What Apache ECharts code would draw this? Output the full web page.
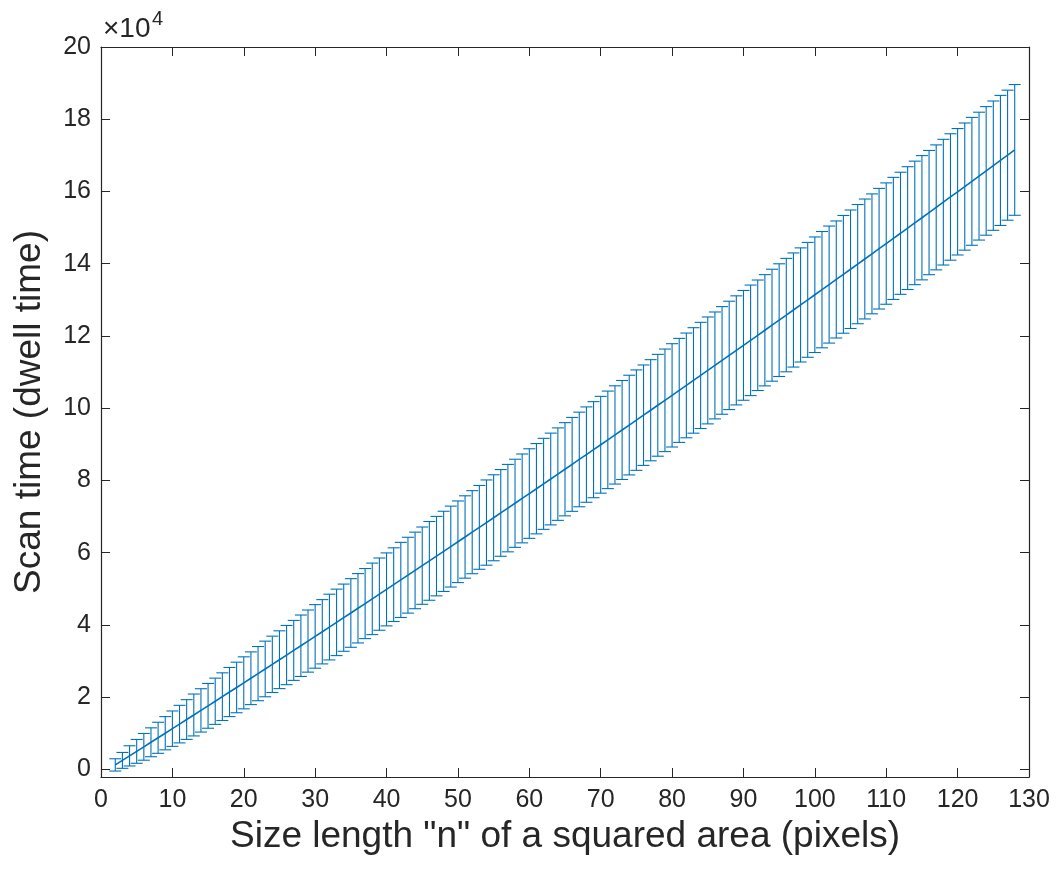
<!DOCTYPE html>
<html>
<head>
<meta charset="utf-8">
<script src="https://cdn.jsdelivr.net/npm/echarts@6/dist/echarts.min.js"></script>
<style>
html,body{margin:0;padding:0;background:#fff;}
#chart{width:1057px;height:877px;}
</style>
</head>
<body>
<div id="chart"></div>
<script>
// Size length n (pixels)
var sizeN = [2,3,4,5,6,7,8,9,10,11,12,13,14,15,16,17,18,19,20,21,22,23,24,25,26,27,28,29,30,31,32,33,34,35,36,37,38,39,40,41,42,43,44,45,46,47,48,49,50,51,52,53,54,55,56,57,58,59,60,61,62,63,64,65,66,67,68,69,70,71,72,73,74,75,76,77,78,79,80,81,82,83,84,85,86,87,88,89,90,91,92,93,94,95,96,97,98,99,100,101,102,103,104,105,106,107,108,109,110,111,112,113,114,115,116,117,118,119,120,121,122,123,124,125,126,127,128];
// Mean scan time (dwell time)
var meanTime = [1250,2500,3750,5000,6250,7510,8760,10020,11280,12540,13810,15070,16340,17600,18870,20140,21420,22690,23970,25240,26520,27810,29090,30370,31660,32950,34240,35530,36820,38110,39410,40710,42010,43310,44610,45910,47220,48530,49840,51150,52460,53770,55090,56410,57730,59050,60370,61690,63020,64350,65680,67010,68340,69670,71010,72340,73680,75020,76370,77710,79060,80400,81750,83100,84450,85810,87160,88520,89880,91240,92600,93970,95330,96700,98070,99440,100810,102180,103560,104930,106310,107690,109070,110460,111840,113230,114620,116010,117400,118790,120190,121580,122980,124380,125780,127190,128590,130000,131410,132820,134230,135640,137060,138470,139890,141310,142730,144160,145580,147010,148430,149860,151300,152730,154160,155600,157040,158480,159920,161360,162810,164250,165700,167150,168600,170050,171510];
// Error bar half-length
var errTime = [1700,2200,2800,3300,3700,4000,4300,4600,4900,5200,5500,5800,6000,6200,6400,6600,6800,7000,7200,7300,7500,7700,7800,8000,8200,8300,8500,8600,8800,8900,9100,9200,9300,9500,9600,9700,9900,10000,10100,10200,10400,10500,10600,10700,10900,11000,11100,11200,11300,11400,11500,11600,11800,11900,12000,12100,12200,12300,12400,12500,12600,12700,12800,12900,13000,13100,13200,13300,13400,13500,13600,13700,13800,13900,13900,14000,14100,14200,14300,14400,14500,14600,14700,14800,14800,14900,15000,15100,15200,15300,15300,15400,15500,15600,15700,15800,15800,15900,16000,16100,16200,16200,16300,16400,16500,16600,16600,16700,16800,16900,16900,17000,17100,17200,17200,17300,17400,17500,17500,17600,17700,17700,17800,17900,18000,18000,18100];
var xTicks = [0,10,20,30,40,50,60,70,80,90,100,110,120,130];
var yTicks = [0,20000,40000,60000,80000,100000,120000,140000,160000,180000,200000];
var xTitle = 'Size length "n" of a squared area (pixels)';
var yTitle = 'Scan time (dwell time)';

var FONT = '"Liberation Sans", Arial, Helvetica, sans-serif';
var AX = '#262626';
var BLUE = '#0072BD';

var lineData = sizeN.map(function(n,i){return [n, meanTime[i]];});
var errData = sizeN.map(function(n,i){return [n, meanTime[i]-errTime[i], meanTime[i]+errTime[i]];});

var chart = echarts.init(document.getElementById('chart'), null, {renderer:'canvas'});

function xAx(pos, showLabel){
  return {
    type:'value', position:pos, min:0, max:130, interval:10,
    axisLine:{show:true, onZero:false, lineStyle:{color:AX, width:1.2}},
    axisTick:{show:true, inside:true, length:9, lineStyle:{color:AX, width:1}},
    axisLabel:{show:showLabel, fontSize:25, color:AX, fontFamily:FONT, margin:11},
    splitLine:{show:false},
    name: showLabel ? xTitle : '',
    nameLocation:'middle', nameGap:40,
    nameTextStyle:{fontSize:37, color:AX, fontFamily:FONT}
  };
}
function yAx(pos, showLabel){
  return {
    type:'value', position:pos, min:-2100, max:200000,
    axisLine:{show:true, onZero:false, lineStyle:{color:AX, width:1.2}},
    axisTick:{show:true, inside:true, length:9, customValues:yTicks, lineStyle:{color:AX, width:1}},
    axisLabel:{show:showLabel, customValues:yTicks, fontSize:25, color:AX, fontFamily:FONT, margin:10,
      formatter:function(v){return String(Math.round(v/10000));}},
    splitLine:{show:false},
    name: showLabel ? yTitle : '',
    nameLocation:'middle', nameGap:53,
    nameTextStyle:{fontSize:37, color:AX, fontFamily:FONT}
  };
}

var option = {
  animation:false,
  backgroundColor:'#fff',
  grid:{left:101, top:47, width:928, height:730, containLabel:false},
  xAxis:[xAx('bottom', true), xAx('top', false)],
  yAxis:[yAx('left', true), yAx('right', false)],
  graphic:[
    {type:'text', left:103, top:15, style:{text:'\u00d710', fontSize:28, fill:AX, fontFamily:FONT}},
    {type:'text', left:152, top:9, style:{text:'4', fontSize:20, fill:AX, fontFamily:FONT}}
  ],
  series:[
    {
      type:'custom', xAxisIndex:0, yAxisIndex:0, data:errData, z:2,
      renderItem:function(params, api){
        var x = api.value(0);
        var lo = api.coord([x, api.value(1)]);
        var hi = api.coord([x, api.value(2)]);
        var c = 6;
        var st = {stroke:BLUE, lineWidth:1.1};
        return {type:'group', children:[
          {type:'line', shape:{x1:lo[0], y1:lo[1], x2:hi[0], y2:hi[1]}, style:st},
          {type:'line', shape:{x1:lo[0]-c, y1:lo[1], x2:lo[0]+c, y2:lo[1]}, style:st},
          {type:'line', shape:{x1:hi[0]-c, y1:hi[1], x2:hi[0]+c, y2:hi[1]}, style:st}
        ]};
      }
    },
    {
      type:'line', xAxisIndex:0, yAxisIndex:0, data:lineData, z:3,
      showSymbol:false, symbol:'none',
      lineStyle:{color:BLUE, width:1.6}
    }
  ]
};
chart.setOption(option);
</script>
</body>
</html>
